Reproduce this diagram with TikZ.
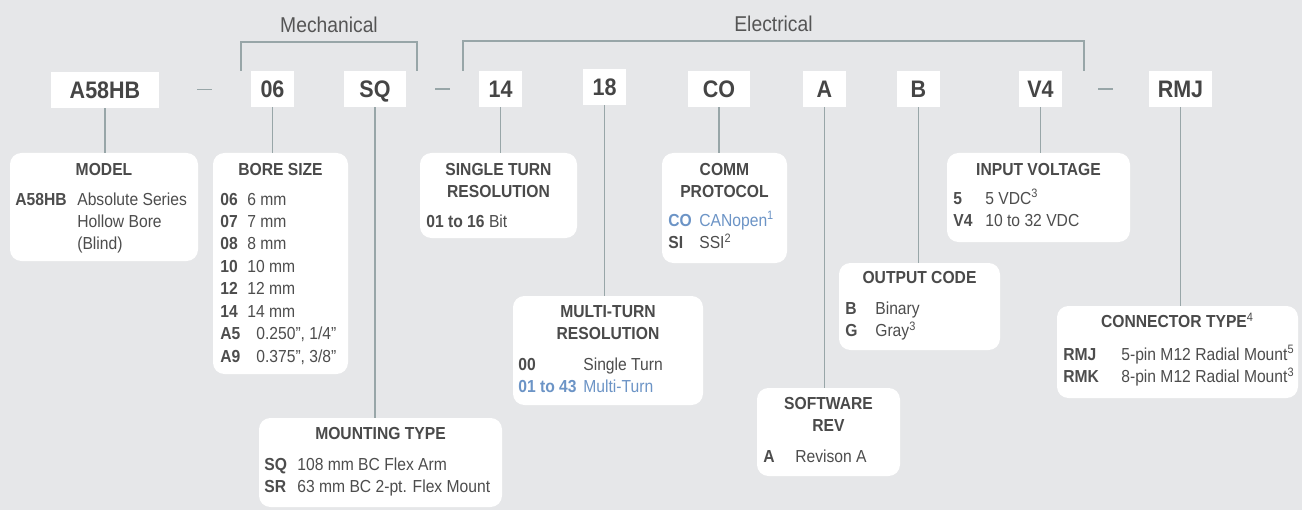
\documentclass[tikz,border=0pt]{standalone}
\usepackage{fontspec}
\setmainfont{Liberation Sans}[FakeStretch=0.9]
\usetikzlibrary{positioning,fit,calc}
\definecolor{bgcol}{HTML}{E6E7E9}
\definecolor{linecol}{HTML}{98A6A8}
\definecolor{codecol}{HTML}{454545}
\definecolor{titlecol}{HTML}{4A4A4A}
\definecolor{textcol}{HTML}{4D4D4D}
\definecolor{headcol}{HTML}{555555}
\definecolor{bluecol}{HTML}{6C94C6}

\begin{document}
\begin{tikzpicture}[
    x=0.02cm, y=-0.02cm,
    codebox/.style={rectangle, fill=white, inner sep=0pt, minimum height=7.2mm, text=codecol, font=\fontsize{13.6}{16}\selectfont\bfseries, text height=9.7pt, text depth=0pt},
    descbox/.style={rectangle, fill=white, rounded corners=6.5pt, inner sep=0pt},
    boxtitle/.style={anchor=base, inner sep=0pt, text=titlecol, font=\fontsize{9.9}{12.7}\selectfont\bfseries},
    boxrows/.style={anchor=base west, inner sep=0pt, text=textcol, font=\fontsize{9.9}{12.8}\selectfont},
    groupname/.style={anchor=base, inner sep=0pt, text=headcol, font=\fontsize{12.2}{14}\selectfont},
    link/.style={draw=linecol, line width=1.1pt},
]
    % Background
    \path[use as bounding box, fill=bgcol] (0,0) rectangle (1302,510);

    % Part number codes
    \node[codebox, minimum width=21.6mm] (cA58HB) at (105,90) {A58HB};
    \node[codebox, minimum width=8.6mm] (c06) at (272.5,89) {06};
    \node[codebox, minimum width=12.4mm] (cSQ) at (375,89) {SQ};
    \node[codebox, minimum width=8.6mm] (c14) at (500.5,89) {14};
    \node[codebox, minimum width=8.6mm] (c18) at (604.5,87) {18};
    \node[codebox, minimum width=12.4mm] (cCO) at (719,89) {CO};
    \node[codebox, minimum width=8.6mm] (cA) at (824.5,89) {A};
    \node[codebox, minimum width=8.6mm] (cB) at (918.5,89) {B};
    \node[codebox, minimum width=8.6mm] (cV4) at (1040.5,89) {V4};
    \node[codebox, minimum width=12.6mm] (cRMJ) at (1180.5,89) {RMJ};

    % Dashes
    \draw[link] ($(cA58HB.east)!0.5!(c06.west)$) +(-7.5,0) -- +(7.5,0);
    \draw[link] ($(cSQ.east)!0.5!(c14.west)$) +(-7.5,0) -- +(7.5,0);
    \draw[link] ($(cV4.east)!0.5!(cRMJ.west)$) +(-7.5,0) -- +(7.5,0);

    % Groups
    \coordinate (mechL) at ($(c06.north west)+(-10,0)$);
    \coordinate (mechR) at ($(cSQ.north east)+(11,0)$);
    \draw[link] (mechL) -- ++(0,-29) -| (mechR);
    \node[groupname] (mech) at ($(mechL)!0.5!(mechR)+(0,-38)$) {Mechanical};
    \coordinate (elecL) at ($(c14.north west)+(-16,0)$);
    \coordinate (elecR) at ($(cV4.north east)+(22,0)$);
    \draw[link] (elecL) -- ++(0,-30) -| (elecR);
    \node[groupname] (elec) at ($(elecL)!0.5!(elecR)+(0,-39)$) {Electrical};

    % Description boxes
    \node[descbox, fit={(10,153) (198,261)}] (model) {};
    \node[descbox, fit={(213,153) (348,374)}] (bore) {};
    \node[descbox, fit={(259,418) (502,507)}] (mount) {};
    \node[descbox, fit={(420,153) (577,238)}] (single) {};
    \node[descbox, fit={(513,296) (703,405)}] (multi) {};
    \node[descbox, fit={(662,153) (787,263)}] (comm) {};
    \node[descbox, fit={(757,388) (900,476)}] (soft) {};
    \node[descbox, fit={(839,263) (1000,350)}] (output) {};
    \node[descbox, fit={(947,153) (1130,242)}] (input) {};
    \node[descbox, fit={(1057,306) (1298,398)}] (conn) {};

    % Links
    \draw[link] (cA58HB) -- (cA58HB |- model.north);
    \draw[link] (c06) -- (c06 |- bore.north);
    \draw[link] (cSQ) -- (cSQ |- mount.north);
    \draw[link] (c14) -- (c14 |- single.north);
    \draw[link] (c18) -- (c18 |- multi.north);
    \draw[link] (cCO) -- (cCO |- comm.north);
    \draw[link] (cA) -- (cA |- soft.north);
    \draw[link] (cB) -- (cB |- output.north);
    \draw[link] (cV4) -- (cV4 |- input.north);
    \draw[link] (cRMJ) -- (cRMJ |- conn.north);

    % Titles
    \node[boxtitle] (modeltitle) at ($(model.north)+(0,23)$) {MODEL};
    \node[boxtitle] (boretitle) at ($(bore.north)+(0,23)$) {BORE SIZE};
    \node[boxtitle] (mounttitle) at ($(mount.north)+(0,22)$) {MOUNTING TYPE};
    \node[boxtitle] (singletitle) at ($(single.north)+(0,23)$) {\begin{tabular}[t]{@{}c@{}}SINGLE TURN\\RESOLUTION\end{tabular}};
    \node[boxtitle] (multititle) at ($(multi.north)+(0,22)$) {\begin{tabular}[t]{@{}c@{}}MULTI-TURN\\RESOLUTION\end{tabular}};
    \node[boxtitle] (commtitle) at ($(comm.north)+(0,23)$) {\begin{tabular}[t]{@{}c@{}}COMM\\PROTOCOL\end{tabular}};
    \node[boxtitle] (softtitle) at ($(soft.north)+(0,22)$) {\begin{tabular}[t]{@{}c@{}}SOFTWARE\\REV\end{tabular}};
    \node[boxtitle] (outputtitle) at ($(output.north)+(0,21)$) {OUTPUT CODE};
    \node[boxtitle] (inputtitle) at ($(input.north)+(0,23)$) {INPUT VOLTAGE};
    \node[boxtitle] (conntitle) at ($(conn.north)+(0,22)$) {CONNECTOR TYPE\textsuperscript{\mdseries 4}};

    % Options
    \node[boxrows] (modelrows) at (15,205) {\begin{tabular}[t]{@{}p{12.4mm}@{}l@{}}
        \textbf{A58HB} & Absolute Series\\ & Hollow Bore\\ & (Blind)\end{tabular}};
    \node[boxrows] (borerows) at (220,205) {\begin{tabular}[t]{@{}p{5.4mm}@{}l@{}}
        \textbf{06} & 6 mm\\ \textbf{07} & 7 mm\\ \textbf{08} & 8 mm\\ \textbf{10} & 10 mm\\
        \textbf{12} & 12 mm\\ \textbf{14} & 14 mm\\ \textbf{A5} & \hspace{1.8mm}0.250”, 1/4”\\
        \textbf{A9} & \hspace{1.8mm}0.375”, 3/8”\end{tabular}};
    \node[boxrows] (mountrows) at (264,470) {\begin{tabular}[t]{@{}p{6.6mm}@{}l@{}}
        \textbf{SQ} & 108 mm BC Flex Arm\\ \textbf{SR} & 63 mm BC 2-pt. Flex Mount\end{tabular}};
    \node[boxrows] (singlerows) at (426,227) {\textbf{01 to 16} Bit};
    \node[boxrows] (multirows) at (518,370) {\begin{tabular}[t]{@{}p{13mm}@{}l@{}}
        \textbf{00} & Single Turn\\
        \textcolor{bluecol}{\textbf{01 to 43}} & \textcolor{bluecol}{Multi-Turn}\end{tabular}};
    \node[boxrows] (commrows) at (668,226) {\begin{tabular}[t]{@{}p{6.2mm}@{}l@{}}
        \textcolor{bluecol}{\textbf{CO}} & \textcolor{bluecol}{CANopen\textsuperscript{1}}\\
        \textbf{SI} & SSI\textsuperscript{2}\end{tabular}};
    \node[boxrows] (softrows) at (763,462) {\begin{tabular}[t]{@{}p{6.4mm}@{}l@{}}
        \textbf{A} & Revison A\end{tabular}};
    \node[boxrows] (outputrows) at (845,314) {\begin{tabular}[t]{@{}p{6mm}@{}l@{}}
        \textbf{B} & Binary\\ \textbf{G} & Gray\textsuperscript{3}\end{tabular}};
    \node[boxrows] (inputrows) at (953,204) {\begin{tabular}[t]{@{}p{6.4mm}@{}l@{}}
        \textbf{5} & 5 VDC\textsuperscript{3}\\ \textbf{V4} & 10 to 32 VDC\end{tabular}};
    \node[boxrows] (connrows) at (1063,360) {\begin{tabular}[t]{@{}p{11.6mm}@{}l@{}}
        \textbf{RMJ} & 5-pin M12 Radial Mount\textsuperscript{5}\\
        \textbf{RMK} & 8-pin M12 Radial Mount\textsuperscript{3}\end{tabular}};
\end{tikzpicture}
\end{document}
